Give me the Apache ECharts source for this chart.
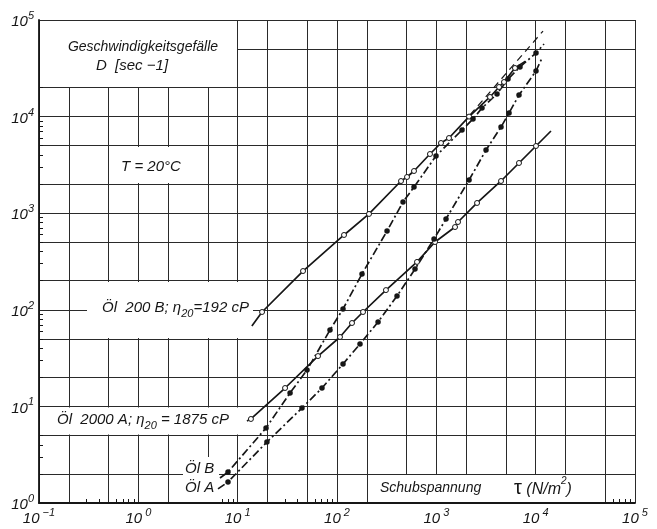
<!DOCTYPE html>
<html><head><meta charset="utf-8">
<script src="https://cdn.jsdelivr.net/npm/echarts@6/dist/echarts.min.js"></script>
<style>html,body{margin:0;padding:0;background:#fff}#c{width:657px;height:529px}</style>
</head><body><div id="c"></div>
<script>
// ---- data (tau in N/m^2, D in 1/s) ----
const xExponents = [-1, 0, 1, 2, 3, 4, 5];
const yExponents = [0, 1, 2, 3, 4, 5];
const gridMantissas = [1, 2, 5];
const xMinorMantissas = [3, 4, 6, 7, 8, 9];
const yMinorMantissas = [2, 3, 4, 5, 6, 7, 8, 9];

const oel200B_points = [[17.6, 94.9], [45.5, 252], [117.7, 595], [210, 982], [441, 2153], [507, 2370], [596, 2735], [863, 4100], [1114, 5330], [1341, 6000], [2135, 10000], [3470, 15960], [4280, 20250], [4800, 22800], [6190, 31840]];
const oel200B_ends = [[13.9, 68.0], [7900, 37500]];
const oel200B_newton = [[2183, 10400], [11860, 76900]];

const oel2000A_points = [[13.6, 7.41], [30.0, 15.5], [64.4, 33.2], [107.2, 52.3], [141.6, 73.0], [182.8, 94.9], [311, 160], [639, 313], [970, 503], [1543, 719], [1653, 811], [2570, 1276], [4480, 2155], [6795, 3310], [10080, 4963]];
const oel2000A_ends = [[12.4, 7.06], [14260, 7096]];

const oelB_points = [[7.99, 2.09], [19.3, 5.98], [33.7, 13.8], [49.9, 23.8], [85.0, 61.8], [115, 102], [178.5, 235], [319, 654], [462, 1306], [596, 1867], [992, 3910], [1813, 7266], [2339, 9440], [2882, 12270], [4083, 17140], [5265, 24500], [6955, 32600], [10080, 45500]];
const oelB_ends = [[6.64, 1.815], [12130, 56400]];

const oelA_points = [[7.99, 1.65], [19.7, 4.28], [44.4, 9.62], [70.6, 15.5], [115, 27.5], [170.5, 44.3], [259, 74.8], [402, 139], [610, 264], [948, 541], [1251, 871], [2135, 2205], [3164, 4510], [4480, 7800], [5395, 10890], [6795, 16740], [10080, 29650]];
const oelA_ends = [[6.34, 1.40], [11590, 40400]];

// ---- helpers ----
const L = Math.log10;
function decadeValues(minExp, maxExp, mantissas, limit) {
  const out = [];
  for (let e = minExp; e <= maxExp; e++) {
    for (const m of mantissas) {
      const v = +(e + L(m)).toFixed(6);
      if (v <= limit + 1e-9) out.push(v);
    }
  }
  return out;
}
const xMin = xExponents[0], xMax = xExponents[xExponents.length - 1];
const yMin = yExponents[0], yMax = yExponents[yExponents.length - 1];
const xGrid = decadeValues(xMin, xMax, gridMantissas, xMax);
const yGrid = decadeValues(yMin, yMax, gridMantissas, yMax);
const xMinor = decadeValues(xMin, xMax - 1, xMinorMantissas, xMax);
const yMinor = decadeValues(yMin, yMax - 1, yMinorMantissas, yMax);

function lineData(points, ends) {
  const d = [];
  if (ends) d.push({ value: [L(ends[0][0]), L(ends[0][1])], symbol: 'none' });
  points.forEach(p => d.push([L(p[0]), L(p[1])]));
  if (ends) d.push({ value: [L(ends[1][0]), L(ends[1][1])], symbol: 'none' });
  return d;
}
const INK = '#161616';
const FONT = 'Liberation Sans';
function mkSeries(name, points, ends, open, lineType) {
  return {
    name, type: 'line', xAxisIndex: 0, yAxisIndex: 0,
    data: lineData(points, ends),
    symbol: 'circle', symbolSize: open ? 5 : 5.5,
    showSymbol: true,
    itemStyle: open ? { color: '#fff', borderColor: INK, borderWidth: 1 } : { color: INK, borderColor: INK, borderWidth: 0 },
    lineStyle: { color: INK, width: 1.7, type: lineType },
    emphasis: { disabled: true }, animation: false, z: 3
  };
}

const supLabel = {
  fontFamily: FONT, color: INK,
  rich: {
    b: { fontSize: 15, fontStyle: 'italic', fontFamily: FONT, color: INK, lineHeight: 19, verticalAlign: 'bottom' },
    s: { fontSize: 11, fontStyle: 'italic', fontFamily: FONT, color: INK, lineHeight: 12, verticalAlign: 'top' }
  }
};

const option = {
  backgroundColor: '#fff',
  animation: false,
  grid: { left: 39, right: 22, top: 20, bottom: 26, containLabel: false },
  xAxis: [
    {
      type: 'value', min: xMin, max: xMax, position: 'bottom',
      axisLine: { show: true, onZero: false, lineStyle: { color: INK, width: 1.8 } },
      axisTick: { show: true, inside: true, length: 4, customValues: xMinor, lineStyle: { color: INK, width: 1 } },
      axisLabel: Object.assign({
        customValues: xExponents, margin: 4,
        formatter: v => '{b|10}{s|' + (v < 0 ? ' \u2212' + Math.abs(Math.round(v)) : ' ' + Math.round(v)) + '}'
      }, supLabel),
      splitLine: { show: false }
    },
    {
      type: 'value', min: xMin, max: xMax, position: 'bottom',
      axisLine: { show: false, onZero: false }, axisLabel: { show: false },
      axisTick: { show: false, customValues: xGrid },
      splitLine: { show: true, lineStyle: { color: '#2a2a2a', width: 1 } }
    }
  ],
  yAxis: [
    {
      type: 'value', min: yMin, max: yMax, position: 'left',
      axisLine: { show: true, onZero: false, lineStyle: { color: INK, width: 1.8 } },
      axisTick: { show: true, inside: true, length: 4, customValues: yMinor, lineStyle: { color: INK, width: 1 } },
      axisLabel: Object.assign({
        customValues: yExponents, margin: 5,
        formatter: v => '{b|10}{s|' + Math.round(v) + '}'
      }, supLabel),
      splitLine: { show: false }
    },
    {
      type: 'value', min: yMin, max: yMax, position: 'left',
      axisLine: { show: false, onZero: false }, axisLabel: { show: false },
      axisTick: { show: false, customValues: yGrid },
      splitLine: { show: true, lineStyle: { color: '#2a2a2a', width: 1 } }
    }
  ],
  series: [
    mkSeries('Öl 200 B', oel200B_points, oel200B_ends, true, 'solid'),
    {
      name: 'Öl 200 B Newton', type: 'line', data: lineData(oel200B_newton, null), symbol: 'none',
      lineStyle: { color: INK, width: 1.2, type: [7, 5] }, z: 3
    },
    mkSeries('Öl 2000 A', oel2000A_points, oel2000A_ends, true, 'solid'),
    mkSeries('Öl B', oelB_points, oelB_ends, false, [8, 3, 2, 3]),
    mkSeries('Öl A', oelA_points, oelA_ends, false, [8, 3, 2, 3])
  ],
  graphic: [
    { type: 'rect', z: 1, shape: { x: 40, y: 21, width: 197, height: 66 }, style: { fill: '#fff' } },
    { type: 'rect', z: 1, shape: { x: 110, y: 147, width: 96.5, height: 36 }, style: { fill: '#fff' } },
    { type: 'rect', z: 1, shape: { x: 87, y: 282, width: 166, height: 56 }, style: { fill: '#fff' } },
    { type: 'rect', z: 1, shape: { x: 40, y: 407.5, width: 206, height: 27 }, style: { fill: '#fff' } },
    { type: 'rect', z: 1, shape: { x: 183, y: 457, width: 36, height: 45 }, style: { fill: '#fff' } },
    { type: 'rect', z: 1, shape: { x: 368, y: 475, width: 236, height: 27 }, style: { fill: '#fff' } },
    { type: 'text', z: 5, x: 143, y: 47, style: { text: 'Geschwindigkeitsgefälle', font: 'italic 14px ' + FONT, fill: INK, align: 'center', verticalAlign: 'middle' } },
    { type: 'text', z: 5, x: 132, y: 66, style: { text: 'D  [sec \u22121]', font: 'italic 15px ' + FONT, fill: INK, align: 'center', verticalAlign: 'middle' } },
    { type: 'text', z: 5, x: 151, y: 167, style: { text: 'T = 20°C', font: 'italic 15px ' + FONT, fill: INK, align: 'center', verticalAlign: 'middle' } },
    { type: 'text', z: 5, x: 102, y: 310, style: {
      text: '{a|Öl  200 B; η}{sub|20}{a|=192 cP}', fill: INK, align: 'left', verticalAlign: 'middle',
      rich: { a: { fontSize: 15, fontStyle: 'italic', fontFamily: FONT, fill: INK, lineHeight: 19, verticalAlign: 'top' },
              sub: { fontSize: 11, fontStyle: 'italic', fontFamily: FONT, fill: INK, lineHeight: 19, verticalAlign: 'bottom' } } } },
    { type: 'text', z: 5, x: 57, y: 422, style: {
      text: '{a|Öl  2000 A; η}{sub|20}{a| = 1875 cP}', fill: INK, align: 'left', verticalAlign: 'middle',
      rich: { a: { fontSize: 15, fontStyle: 'italic', fontFamily: FONT, fill: INK, lineHeight: 19, verticalAlign: 'top' },
              sub: { fontSize: 11, fontStyle: 'italic', fontFamily: FONT, fill: INK, lineHeight: 19, verticalAlign: 'bottom' } } } },
    { type: 'text', z: 5, x: 185, y: 469, style: { text: 'Öl B', font: 'italic 15px ' + FONT, fill: INK, align: 'left', verticalAlign: 'middle' } },
    { type: 'text', z: 5, x: 185, y: 488, style: { text: 'Öl A', font: 'italic 15px ' + FONT, fill: INK, align: 'left', verticalAlign: 'middle' } },
    { type: 'text', z: 5, x: 380, y: 488, style: { text: 'Schubspannung', font: 'italic 14px ' + FONT, fill: INK, align: 'left', verticalAlign: 'middle' } },
    { type: 'text', z: 5, x: 514, y: 487, style: {
      text: '{t|τ}{a| (N/m}{s|2}{a|)}', fill: INK, align: 'left', verticalAlign: 'middle',
      rich: { t: { fontSize: 20, fontFamily: FONT, fill: INK, lineHeight: 22, verticalAlign: 'bottom' },
              a: { fontSize: 16, fontStyle: 'italic', fontFamily: FONT, fill: INK, lineHeight: 22, verticalAlign: 'bottom' },
              s: { fontSize: 10, fontStyle: 'italic', fontFamily: FONT, fill: INK, lineHeight: 22, verticalAlign: 'top' } } } }
  ]
};
const chart = echarts.init(document.getElementById('c'), null, { renderer: 'canvas' });
chart.setOption(option);
</script>
</body></html>
